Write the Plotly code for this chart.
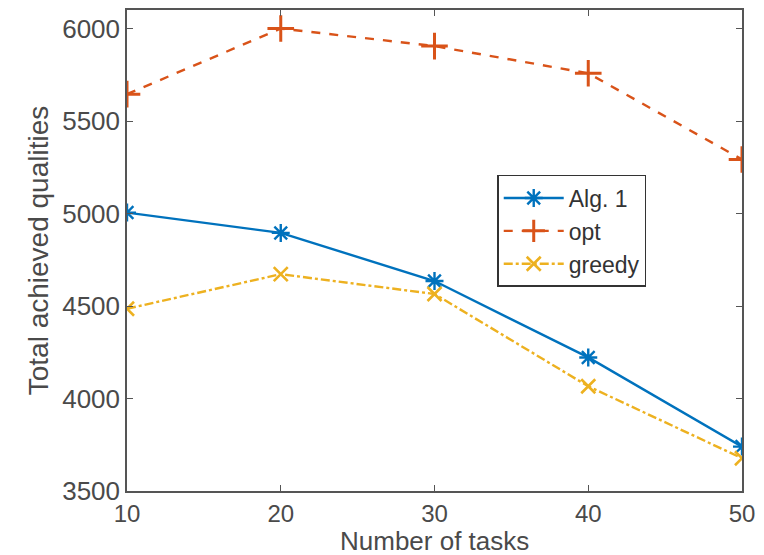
import plotly.graph_objects as go

tasks = [10, 20, 30, 40, 50]
alg1 = [5005, 4895, 4635, 4222, 3740]
opt = [5645, 6000, 5905, 5758, 5292]
greedy = [4485, 4672, 4565, 4066, 3677]

blue = "#0072BD"
orange = "#D95319"
yellow = "#EDB120"
axis_col = "#555555"
font = "Liberation Sans, Arial, sans-serif"

fig = go.Figure()
fig.add_trace(go.Scatter(x=tasks, y=alg1, name="Alg. 1", mode="lines+markers",
                         line=dict(color=blue, width=2.4),
                         marker=dict(symbol="asterisk-open", size=15, line=dict(color=blue, width=2.4))))
fig.add_trace(go.Scatter(x=tasks, y=opt, name="opt", mode="lines+markers",
                         line=dict(color=orange, width=2.4, dash="dash"),
                         marker=dict(symbol="cross-thin-open", size=19, line=dict(color=orange, width=3))))
fig.add_trace(go.Scatter(x=tasks, y=greedy, name="greedy", mode="lines+markers",
                         line=dict(color=yellow, width=2.4, dash="dashdot"),
                         marker=dict(symbol="x-thin-open", size=14, line=dict(color=yellow, width=2.6))))

fig.update_layout(
    width=764, height=555,
    margin=dict(l=127, r=22, t=10, b=64),
    paper_bgcolor="white", plot_bgcolor="white",
    font=dict(family=font, size=26, color="#4a4a4a"),
    legend=dict(x=0.602, y=0.657, xanchor="left", yanchor="top",
                bordercolor="#333333", borderwidth=1.5, bgcolor="white",
                font=dict(size=23, color="#333333"), tracegroupgap=0, itemwidth=60),
    xaxis=dict(range=[10, 50], tickvals=tasks, ticks="inside", ticklen=6,
               tickcolor=axis_col, showline=True, linecolor=axis_col, linewidth=1.5,
               mirror="ticks", showgrid=False, zeroline=False, automargin=False,
               tickfont=dict(size=24)),
    yaxis=dict(range=[3500, 6100], tickvals=[3500, 4000, 4500, 5000, 5500, 6000],
               ticks="inside", ticklen=6, tickcolor=axis_col, showline=True,
               linecolor=axis_col, linewidth=1.5, mirror="ticks", showgrid=False,
               zeroline=False, automargin=False,
               title=dict(text="Total achieved qualities", standoff=5, font=dict(size=28)),
               tickfont=dict(size=26)),
    annotations=[dict(text="Number of tasks", xref="paper", yref="paper",
                      x=0.5, y=-0.137, xanchor="center", yanchor="bottom",
                      showarrow=False, borderpad=0, font=dict(size=26, color="#4a4a4a"))],
)

fig.write_html("out.html", config={"displayModeBar": False},
               post_script="document.body.style.margin='0';")
